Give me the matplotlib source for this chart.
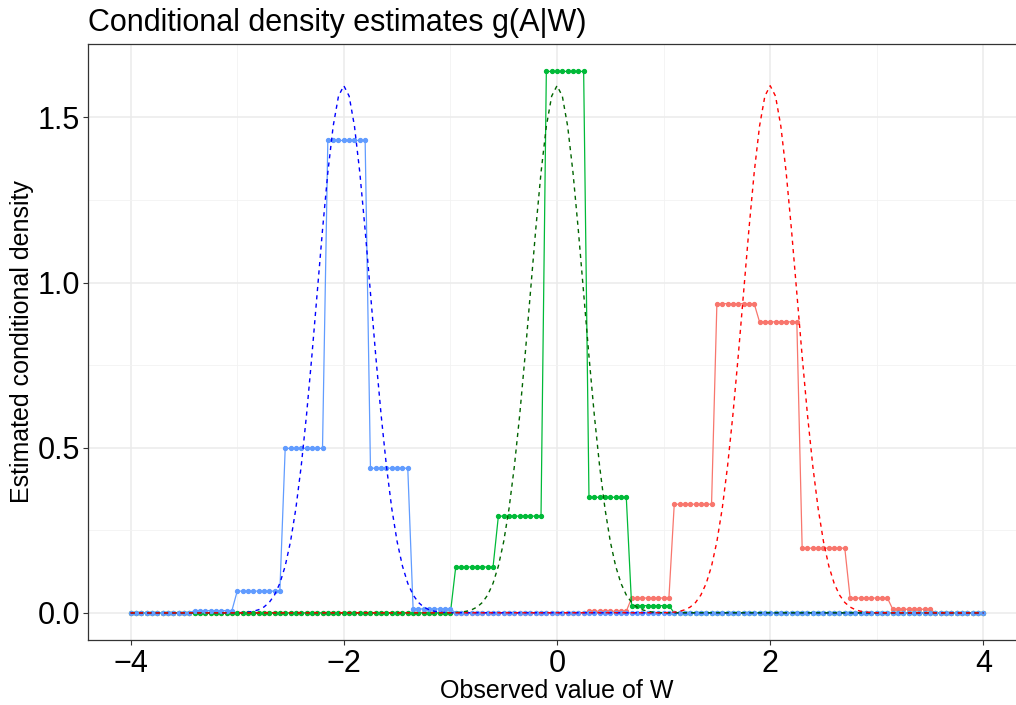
"""Conditional density estimates g(A|W): binned estimates vs true densities."""

import matplotlib

matplotlib.use("Agg")
import matplotlib.pyplot as plt
import numpy as np

plt.rcParams["font.family"] = ["Liberation Sans", "DejaVu Sans"]

# evaluation grid of W (points every 0.05)
w_grid = np.linspace(-4, 4, 161)

# step estimates: (first W, last W, estimated density) for each bin
blue_bins = [
    (-3.40, -3.05, 0.007),
    (-3.00, -2.60, 0.066),
    (-2.55, -2.20, 0.498),
    (-2.15, -1.80, 1.430),
    (-1.75, -1.40, 0.438),
    (-1.35, -1.00, 0.012),
]
green_bins = [
    (-0.95, -0.60, 0.139),
    (-0.55, -0.15, 0.293),
    (-0.10, 0.25, 1.639),
    (0.30, 0.65, 0.350),
    (0.70, 1.05, 0.022),
]
red_bins = [
    (0.30, 0.65, 0.005),
    (0.70, 1.05, 0.045),
    (1.10, 1.45, 0.329),
    (1.50, 1.85, 0.936),
    (1.90, 2.25, 0.881),
    (2.30, 2.70, 0.196),
    (2.75, 3.10, 0.045),
    (3.15, 3.50, 0.011),
]

# true densities (dashed): same shape around each centre
true_centres = [-2.0, 0.0, 2.0]
true_offsets = [
    -1.00, -0.95, -0.90, -0.85, -0.80, -0.75, -0.70, -0.65, -0.60, -0.55,
    -0.50, -0.45, -0.40, -0.35, -0.30, -0.25, -0.20, -0.15, -0.10, -0.05,
    0.00, 0.05, 0.10, 0.15, 0.20, 0.25, 0.30, 0.35, 0.40, 0.45,
    0.50, 0.55, 0.60, 0.65, 0.70, 0.75, 0.80, 0.85, 0.90, 0.95, 1.00,
]
true_heights = [
    0.0005, 0.0012, 0.0024, 0.0049, 0.0095, 0.0177, 0.0316, 0.0543, 0.0896, 0.1419,
    0.2160, 0.3158, 0.4437, 0.5989, 0.7768, 0.9679, 1.1588, 1.3330, 1.4731, 1.5642,
    1.5958, 1.5642, 1.4731, 1.3330, 1.1588, 0.9679, 0.7768, 0.5989, 0.4437, 0.3158,
    0.2160, 0.1419, 0.0896, 0.0543, 0.0316, 0.0177, 0.0095, 0.0049, 0.0024, 0.0012, 0.0005,
]


def expand(bins):
    vals = np.zeros_like(w_grid)
    for lo, hi, level in bins:
        vals[(w_grid >= lo - 1e-9) & (w_grid <= hi + 1e-9)] = level
    return vals


fig = plt.figure(figsize=(10.16, 7.05), dpi=100)
ax = fig.add_axes([88 / 1016, 65 / 705, 938 / 1016, 596 / 705])

for bins, col in [(red_bins, "#F8766D"), (green_bins, "#00BA38"), (blue_bins, "#619CFF")]:
    ax.plot(w_grid, expand(bins), color=col, lw=0.9, marker="o", ms=2.8,
            mec=col, mfc=col, zorder=3)

for centre, col in zip(true_centres, ["blue", "darkgreen", "red"]):
    xs = np.concatenate([[-4.0], centre + np.array(true_offsets), [4.0]])
    ys = np.concatenate([[0.0], true_heights, [0.0]])
    ax.plot(xs, ys, color=col, lw=1.0, dashes=(3, 3), zorder=4)

ax.set_xlim(-4.4, 4.4)
ax.set_ylim(-0.082, 1.722)
ax.set_xticks([-4, -2, 0, 2, 4])
ax.set_xticklabels(["\u22124", "\u22122", "0", "2", "4"])
ax.set_xticks([-3, -1, 1, 3], minor=True)
ax.set_yticks([0, 0.5, 1.0, 1.5])
ax.set_yticklabels(["0.0", "0.5", "1.0", "1.5"])
ax.set_yticks([0.25, 0.75, 1.25], minor=True)

ax.grid(which="major", color="#EBEBEB", lw=1.1, zorder=0)
ax.grid(which="minor", color="#F2F2F2", lw=0.6, zorder=0)
ax.set_axisbelow(True)

for side in ["left", "bottom", "top"]:
    ax.spines[side].set_color("#333333")
    ax.spines[side].set_linewidth(0.9)
ax.spines["right"].set_visible(False)

ax.tick_params(which="major", length=3.5, width=0.8, color="#333333",
               labelsize=22, labelcolor="black")
ax.tick_params(axis="x", pad=3)
ax.tick_params(axis="y", pad=2)
ax.tick_params(which="minor", length=0)

ax.set_xlabel("Observed value of W", fontsize=18, labelpad=0)
ax.set_ylabel("Estimated conditional density", fontsize=18, labelpad=3)
ax.set_title("Conditional density estimates g(A|W)", fontsize=22, loc="left", pad=9)

fig.savefig("out.png", dpi=100)
